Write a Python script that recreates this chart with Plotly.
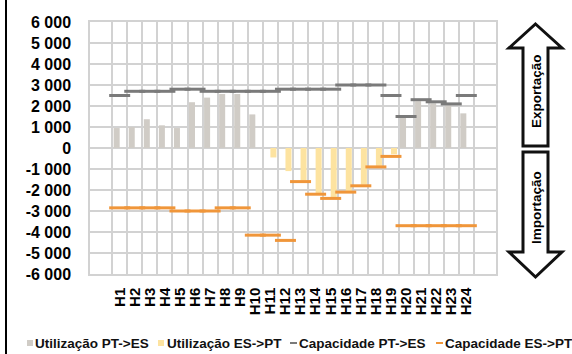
import plotly.graph_objects as go

# Hourly interconnection data (MW)
hours = [f"H{i}" for i in range(1, 25)]

util_pt_es = [950, 1000, 1370, 1080, 950, 2180, 2400, 2570, 2570, 1600,
              0, 0, 0, 0, 0, 0, 0, 0, 0,
              1450, 2230, 2130, 2030, 1650]

util_es_pt = [0, 0, 0, 0, 0, 0, 0, 0, 0, 0,
              -450, -1100, -1550, -2150, -2350, -2050, -1750, -850, -300,
              0, 0, 0, 0, 0]

cap_pt_es = [2500, 2700, 2700, 2700, 2800, 2800, 2700, 2700, 2700, 2700,
             2700, 2800, 2800, 2800, 2800, 3000, 3000, 3000, 2500,
             1500, 2300, 2200, 2100, 2500]

cap_es_pt = [-2850, -2850, -2850, -2850, -3000, -3000, -3000, -2850, -2850, -4150,
             -4150, -4400, -1600, -2200, -2400, -2100, -1800, -900, -400,
             -3700, -3700, -3700, -3700, -3700]

y_tickvals = [6000, 5000, 4000, 3000, 2000, 1000, 0,
              -1000, -2000, -3000, -4000, -5000, -6000]
y_ticktext = ["6 000", "5 000", "4 000", "3 000", "2 000", "1 000", "0",
              "-1 000", "-2 000", "-3 000", "-4 000", "-5 000", "-6 000"]

series_names = ["Utilização PT->ES", "Utilização ES->PT",
                "Capacidade PT->ES", "Capacidade ES->PT"]

C_GRAY_BAR = "#d0ccc6"
C_YELLOW_BAR = "#fde3a0"
C_GRAY_CAP = "#7a7a7a"
C_ORANGE_CAP = "#f0963a"
GRID = "#d2d2d2"
FONT = "Liberation Sans, Arial, sans-serif"

W, H = 572, 354
L, R, T, B = 90, 76, 22, 80
PW, PH = W - L - R, H - T - B


def px(x):
    return (x - L) / PW


def py(y):
    return (H - B - y) / PH


fig = go.Figure()
fig.add_trace(go.Bar(x=hours, y=util_pt_es, name=series_names[0],
                     marker=dict(color=C_GRAY_BAR, line=dict(width=0))))
fig.add_trace(go.Bar(x=hours, y=util_es_pt, name=series_names[1],
                     marker=dict(color=C_YELLOW_BAR, line=dict(width=0))))
fig.add_trace(go.Scatter(x=hours, y=cap_pt_es, mode="markers", name=series_names[2],
                         marker=dict(symbol="line-ew", size=15,
                                     line=dict(color=C_GRAY_CAP, width=3))))
fig.add_trace(go.Scatter(x=hours, y=cap_es_pt, mode="markers", name=series_names[3],
                         marker=dict(symbol="line-ew", size=15,
                                     line=dict(color=C_ORANGE_CAP, width=3))))

shapes = []
annotations = []

# Frame line on the left edge
shapes.append(dict(type="line", xref="paper", yref="paper",
                   x0=px(6), x1=px(6), y0=py(0), y1=py(H),
                   line=dict(color="black", width=2)))

# Export / import arrows
up = [(535.5, 24), (562, 48), (548, 48), (548, 146), (523, 146), (523, 48), (509, 48)]
down = [(523, 152), (548, 152), (548, 252), (562, 252), (535.5, 277), (509, 252), (523, 252)]
for poly in (up, down):
    path = "M " + " L ".join(f"{px(x):.5f},{py(y):.5f}" for x, y in poly) + " Z"
    shapes.append(dict(type="path", xref="paper", yref="paper", path=path,
                       fillcolor="white", line=dict(color="#111111", width=3)))

for text, yc in (("Exportação", 91), ("Importação", 208)):
    annotations.append(dict(xref="paper", yref="paper", x=px(536), y=py(yc),
                            xanchor="center", yanchor="middle",
                            text=text, textangle=-90, showarrow=False,
                            font=dict(family=FONT, size=13.5, color="black",
                                      weight="bold")))

# Legend row
leg_y = 343
legend_items = [
    ("square", C_GRAY_BAR, 27, 33),
    ("square", C_YELLOW_BAR, 158, 165),
    ("dash", C_GRAY_CAP, 290, 297),
    ("dash", C_ORANGE_CAP, 436, 443),
]
for (kind, color, sx, tx), name in zip(legend_items, series_names):
    if kind == "square":
        shapes.append(dict(type="rect", xref="paper", yref="paper",
                           x0=px(sx), x1=px(sx + 6), y0=py(leg_y - 3), y1=py(leg_y + 3),
                           fillcolor=color, line=dict(width=0)))
    else:
        shapes.append(dict(type="line", xref="paper", yref="paper",
                           x0=px(sx), x1=px(sx + 7), y0=py(leg_y), y1=py(leg_y),
                           line=dict(color=color, width=2)))
    annotations.append(dict(xref="paper", yref="paper", x=px(tx), y=py(leg_y),
                            xanchor="left", yanchor="middle", showarrow=False,
                            text=name,
                            font=dict(family=FONT, size=13.5, color="#111111",
                                      weight="bold")))

fig.update_layout(
    width=W, height=H,
    margin=dict(l=L, r=R, t=T, b=B),
    paper_bgcolor="white", plot_bgcolor="white",
    barmode="group", bargap=0.2, bargroupgap=0,
    showlegend=False,
    font=dict(family=FONT, color="black"),
    shapes=shapes, annotations=annotations,
)
fig.update_xaxes(
    type="category", tickson="boundaries", showgrid=True, gridcolor=GRID, gridwidth=1.5,
    showline=True, linecolor=GRID, linewidth=1.5, mirror=True,
    tickmode="array", tickvals=hours, ticktext=hours,
    ticks="", tickangle=-90, ticklabelstandoff=6,
    tickfont=dict(family=FONT, size=15, color="black", weight="bold"),
)
fig.update_yaxes(
    range=[-6000, 6000], tickmode="array", tickvals=y_tickvals, ticktext=y_ticktext,
    showgrid=True, gridcolor=GRID, gridwidth=1.5, zeroline=False,
    showline=True, linecolor=GRID, linewidth=1.5, mirror=True,
    ticks="", ticklabelstandoff=14,
    tickfont=dict(family=FONT, size=16, color="black", weight="bold"),
)

fig.write_html("out.html")
